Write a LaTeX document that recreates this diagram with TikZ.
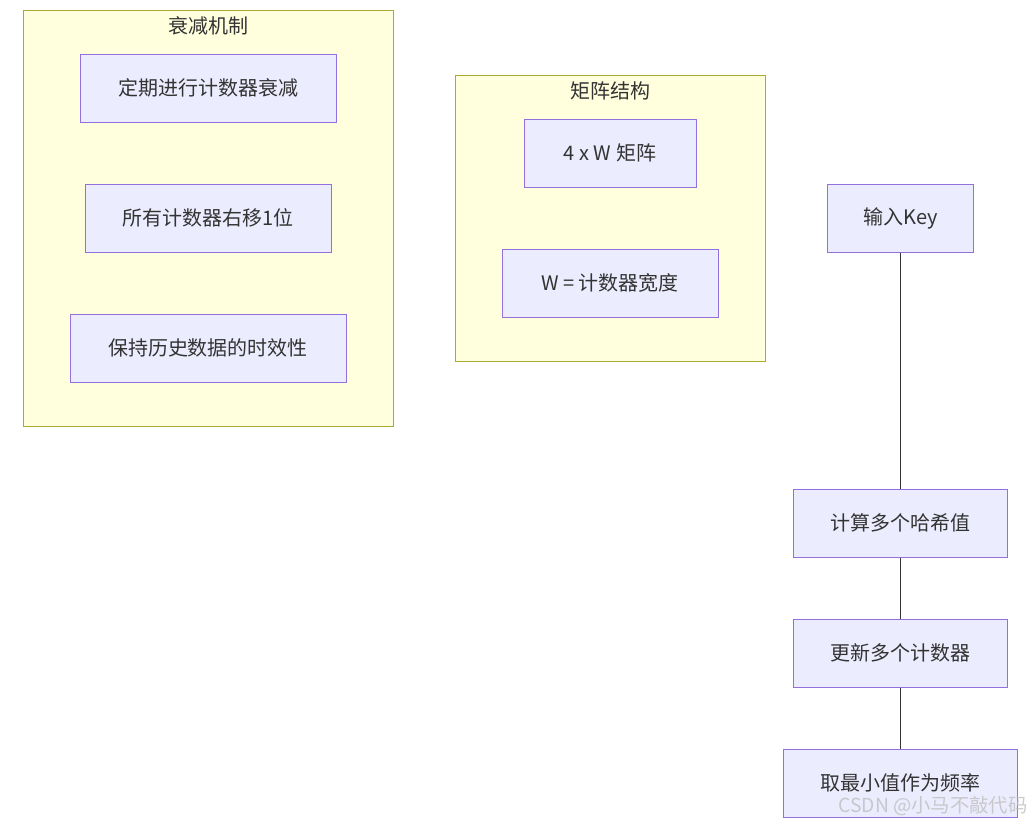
\documentclass[tikz,border=0pt]{standalone}
\usepackage{fontspec}
\setmainfont{Noto Sans CJK SC}
\usepackage{tikz}
\usetikzlibrary{positioning}
\definecolor{nodefill}{HTML}{ECECFF}
\definecolor{nodeline}{HTML}{9370DB}
\definecolor{clusterfill}{HTML}{FFFFDE}
\definecolor{clusterline}{HTML}{AAAA33}
\definecolor{txt}{HTML}{333333}
\tikzset{box/.style={draw=nodeline, fill=nodefill, line width=0.75pt, text=txt, inner sep=0pt, minimum height=51pt, font=\fontsize{15}{18}\selectfont},
    cluster/.style={draw=clusterline, fill=clusterfill, line width=0.75pt, inner sep=0pt},
    ctitle/.style={text=txt, inner sep=0pt, font=\fontsize{15}{18}\selectfont},
    link/.style={draw=txt, line width=0.75pt}}

\begin{document}
\begin{tikzpicture}[x=0.75pt,y=-0.75pt]
                 \useasboundingbox(0,0) rectangle (1033,825);
                 % subgraphs
                 \node[cluster, minimum width=277.5pt, minimum height=312pt] (decay) at (208,218){};
                 \node[ctitle] (decaytitle) at (208,26){衰减机制};
                 \node[cluster, minimum width=232.5pt, minimum height=214.5pt] (matrix) at (610,218){};
                 \node[ctitle] (matrixtitle) at (610,91){矩阵结构};
                 % decay nodes
                 \node[box, minimum width=192pt] (periodic) at (208,88){定期进行计数器衰减};
                 \node[box, minimum width=184.5pt] (shift) at (208,218){所有计数器右移1位};
                 \node[box, minimum width=207pt] (keep) at (208,348){保持历史数据的时效性};
                 % matrix nodes
                 \node[box, minimum width=129pt] (size) at (610,153){4 x W 矩阵};
                 \node[box, minimum width=162pt] (width) at (610,283){W = 计数器宽度};
                 % flow
                 \node[box, minimum width=110pt] (input) at (900.5,218){输入Key};
                 \node[box, minimum width=161pt] (hash) at (900.5,523){计算多个哈希值};
                 \node[box, minimum width=161pt] (update) at (900.5,653){更新多个计数器};
                 \node[box, minimum width=176pt] (minval) at (900.5,783){取最小值作为频率};
                 \draw[link](input)--(hash);
                 \draw[link](hash)--(update);
                 \draw[link](update)--(minval);
                 \node[text=black!25, opacity=0.8, inner sep=0pt, font=\fontsize{14.5}{17}\selectfont] (mark) at (933,806){CSDN @小马不敲代码};
             \end{tikzpicture}
\end{document}
